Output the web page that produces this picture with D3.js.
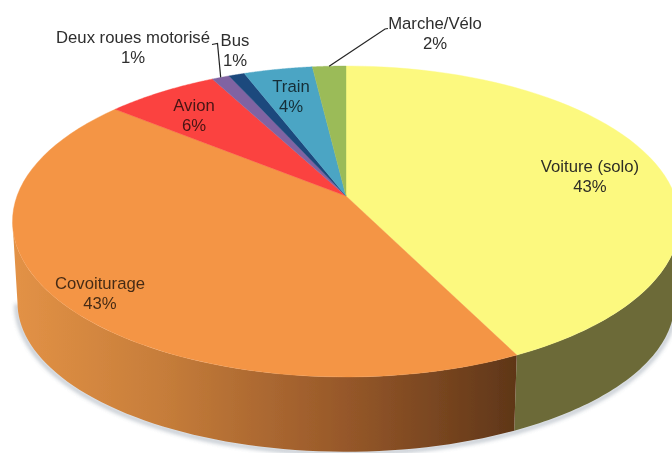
<!DOCTYPE html>
<html><head><meta charset="utf-8">
<script src="https://d3js.org/d3.v7.min.js"></script>
<style>html,body{margin:0;padding:0;background:#fff}svg{display:block}</style>
</head><body><svg id="c" width="672" height="453"></svg>
<script>
const categories = ["Voiture (solo)","Covoiturage","Avion","Deux roues motorisé","Bus","Train","Marche/Vélo"];
const values = [42.7,43.2,6.4,1.0,0.9,3.9,1.9];
const labels = ["43%","43%","6%","1%","1%","4%","2%"];
const colors = ["#fcf97f","#f49545","#fb4340","#8064a2","#1f497d","#4ba5c4","#9bbb59"];
const labelX = [590,100,194,133,235,291,435];
const labelY = [172,289,110.5,43,46,91.5,29];

const cx=346,cy=196,a=329,b=151.3,k=0.164;
const botScaleX=0.985,botScaleY=0.96,botShift=82;
const svg=d3.select("#c");
const defs=svg.append("defs");
const g1=defs.append("linearGradient").attr("id","wallO").attr("gradientUnits","userSpaceOnUse").attr("x1",12).attr("x2",516).attr("y1",0).attr("y2",0);
[[0,"#e39246"],[0.3,"#c67d3a"],[0.65,"#98592a"],[1,"#5f3618"]].forEach(s=>g1.append("stop").attr("offset",s[0]).attr("stop-color",s[1]));
defs.append("filter").attr("id","soft").append("feGaussianBlur").attr("stdDeviation",0.65);
defs.append("filter").attr("id","shadow").append("feGaussianBlur").attr("stdDeviation",2);

const project=(t,r=1)=>{const u=r*Math.sin(t),v=r*Math.cos(t),d=1+k*v;return [cx+a*u/d,cy-b*v/d];};
const lower=p=>[cx+(p[0]-cx)*botScaleX,cy+(p[1]-cy)*botScaleY+botShift];
const arcs=d3.pie().sort(null).value(d=>d)(values);
const rim=(t0,t1)=>d3.range(0,61).map(i=>project(t0+(t1-t0)*i/60));
const line=d3.line();
const root=svg.append("g").attr("filter","url(#soft)");

// the wall is only visible between the two silhouette angles of the projected disc
const wallStart=Math.PI/2+Math.asin(k), wallEnd=Math.PI*1.5-Math.asin(k);

// contact shadow following the lower silhouette
const sil=rim(wallStart,wallEnd).map(lower);
root.append("path").attr("d",line(sil.map(p=>[p[0]+(p[0]<cx?-1:1),p[1]+1.5]))).attr("fill","none")
  .attr("stroke","#6f7f90").attr("stroke-width",3).attr("opacity",0.6).attr("filter","url(#shadow)");

// side walls
arcs.forEach((d,i)=>{
  const t0=Math.max(d.startAngle,wallStart), t1=Math.min(d.endAngle,wallEnd);
  if(t1<=t0) return;
  const top=rim(t0,t1);
  const bot=top.map(lower).reverse();
  root.append("path").attr("d",line(top.concat(bot))+"Z")
    .attr("fill",i===0?"#6c6b38":i===1?"url(#wallO)":colors[i]);
});
// top faces
arcs.forEach((d,i)=>{
  root.append("path").attr("d",line([[cx,cy]].concat(rim(d.startAngle,d.endAngle)))+"Z")
    .attr("fill",colors[i]).attr("stroke",colors[i]).attr("stroke-width",0.4);
});
// leader lines
const mid=i=>(arcs[i].startAngle+arcs[i].endAngle)/2;
const p6=project(mid(6)), p3=project(mid(3));
root.append("path").attr("d",line([p6,[385,29],[388,28.5]])).attr("fill","none").attr("stroke","#222").attr("stroke-width",1.2);
root.append("path").attr("d",line([p3,[217.5,43.5],[212,44.5]])).attr("fill","none").attr("stroke","#222").attr("stroke-width",1.2);
// labels
const txt=root.append("g").attr("font-family","'Liberation Sans',Arial,sans-serif").attr("font-size",16.7).attr("text-anchor","middle");
categories.forEach((c,i)=>{
  const dark=i===2||i===1||i===5;
  const t=txt.append("text").attr("fill",dark?"#000":"#222").attr("fill-opacity",dark?0.72:0.95);
  t.append("tspan").attr("x",labelX[i]).attr("y",labelY[i]).text(c);
  t.append("tspan").attr("x",labelX[i]).attr("y",labelY[i]+20).text(labels[i]);
});
</script></body></html>
